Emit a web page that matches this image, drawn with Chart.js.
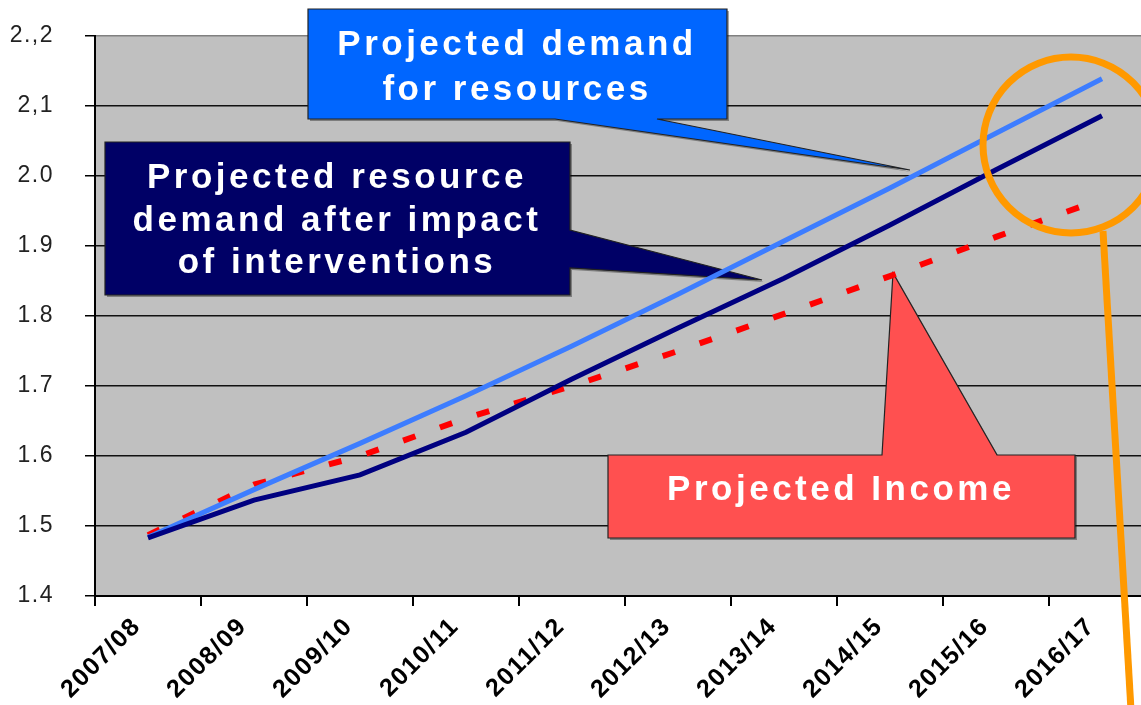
<!DOCTYPE html>
<html>
<head>
<meta charset="utf-8">
<script src="https://cdn.jsdelivr.net/npm/chart.js@4"></script>
<style>
  html, body { margin: 0; padding: 0; background: #fff; overflow: hidden; }
  #wrap { width: 1141px; height: 705px; overflow: hidden; position: relative; }
</style>
</head>
<body>
<div id="wrap"><canvas id="chart" width="1160" height="705"></canvas></div>
<script>
// Data
const years = ["2007/08", "2008/09", "2009/10", "2010/11", "2011/12", "2012/13", "2013/14", "2014/15", "2015/16", "2016/17"];
const demand = [1.484, 1.552, 1.618, 1.686, 1.757, 1.831, 1.907, 1.983, 2.061, 2.139];
const afterInterventions = [1.483, 1.537, 1.573, 1.634, 1.710, 1.783, 1.854, 1.930, 2.009, 2.086];
const income = [1.487, 1.559, 1.600, 1.654, 1.700, 1.750, 1.803, 1.857, 1.913, 1.967];
const yLabels = ["1.4", "1.5", "1.6", "1.7", "1.8", "1.9", "2.0", "2,1", "2.,2"];

const FONT = "'Liberation Sans', Arial, sans-serif";

// Callout boxes drawn over the plot
const callouts = [
    {
        fill: "#0066ff",
        shape: [[308, 9], [727, 9], [727, 119], [657, 119], [910, 170], [555, 119], [308, 119]],
        cx: 517, lines: [["Projected demand", 55], ["for resources", 100]]
    },
    {
        fill: "#000066",
        shape: [[105, 142], [570, 142], [570, 230], [762, 280], [570, 268], [570, 295], [105, 295]],
        cx: 337, lines: [["Projected resource", 188], ["demand after impact", 231], ["of interventions", 273]]
    },
    {
        fill: "#ff5050",
        shape: [[608, 455], [882, 455], [893, 273], [997, 455], [1075, 455], [1075, 538], [608, 538]],
        cx: 841, lines: [["Projected Income", 500]]
    }
];

const decorPlugin = {
    id: "decor",
    beforeDraw(chart) {
        const { ctx, chartArea: a } = chart;
        ctx.save();
        ctx.fillStyle = "#c0c0c0";
        ctx.fillRect(a.left, a.top, a.right - a.left, a.bottom - a.top);
        ctx.restore();
        ctx.letterSpacing = "1.5px";
    },
    beforeDatasetsDraw(chart) {
        const ctx = chart.ctx;
        callouts.forEach((c) => {
            ctx.save();
            ctx.beginPath();
            c.shape.forEach(([x, y], i) => (i ? ctx.lineTo(x, y) : ctx.moveTo(x, y)));
            ctx.closePath();
            ctx.shadowColor = "rgba(0,0,0,0.35)";
            ctx.shadowOffsetX = 2;
            ctx.shadowOffsetY = 2;
            ctx.fillStyle = c.fill;
            ctx.fill();
            ctx.shadowColor = "transparent";
            ctx.strokeStyle = "#222";
            ctx.lineWidth = 1.2;
            ctx.stroke();
            ctx.fillStyle = "#fff";
            ctx.font = "bold 35px " + FONT;
            ctx.letterSpacing = "3.5px";
            ctx.textAlign = "center";
            ctx.textBaseline = "alphabetic";
            c.lines.forEach(([t, y]) => ctx.fillText(t, c.cx, y));
            ctx.restore();
        });
    },
    afterDatasetsDraw(chart) {
        const ctx = chart.ctx;
        ctx.save();
        ctx.strokeStyle = "#ff9900";
        ctx.lineWidth = 7;
        ctx.beginPath();
        ctx.arc(1071, 145, 88, 0, Math.PI * 2);
        ctx.stroke();
        ctx.beginPath();
        ctx.moveTo(1103, 231);
        ctx.lineTo(1131, 710);
        ctx.stroke();
        ctx.restore();
    }
};

new Chart(document.getElementById("chart"), {
    type: "line",
    data: {
        labels: years,
        datasets: [
            {
                label: "Projected resource demand after impact of interventions",
                data: afterInterventions,
                borderColor: "#000080",
                borderWidth: 5,
            },
            {
                label: "Projected demand for resources",
                data: demand,
                borderColor: "#3d7dff",
                borderWidth: 5,
            },
            {
                label: "Projected Income",
                data: income,
                borderColor: "#ff0000",
                borderWidth: 6,
                borderDash: [13, 26],
                borderCapStyle: "butt",
            },
        ],
    },
    options: {
        responsive: false,
        animation: false,
        events: [],
        layout: { padding: { top: 36, right: 5, left: 0, bottom: 0 } },
        elements: { point: { radius: 0 }, line: { tension: 0, fill: false } },
        plugins: { legend: { display: false }, tooltip: { enabled: false } },
        scales: {
            x: {
                offset: true,
                afterFit: (s) => { s.height = 109; },
                grid: {
                    offset: true,
                    drawOnChartArea: false,
                    tickLength: 10,
                    tickColor: "#000",
                    lineWidth: 2,
                },
                border: { color: "#000", width: 2 },
                ticks: {
                    autoSkip: false,
                    maxRotation: 45,
                    minRotation: 45,
                    padding: 6,
                    labelOffset: -11,
                    color: "#000",
                    font: { family: FONT, size: 25, weight: "bold" },
                },
            },
            y: {
                min: 1.4,
                max: 2.2,
                afterFit: (s) => {
                    s.width = 95;
                    s.paddingTop = 0;
                    s.paddingBottom = 0;
                },
                grid: {
                    color: (ctx) => (ctx.tick && ctx.tick.value > 2.19 ? "#808080" : "#111"),
                    tickColor: "#000",
                    tickLength: 10,
                    lineWidth: 1.5,
                },
                border: { color: "#000", width: 2 },
                ticks: {
                    stepSize: 0.1,
                    padding: 31,
                    color: "#222",
                    font: { family: FONT, size: 23 },
                    callback: (v, i) => yLabels[i],
                },
            },
        },
    },
    plugins: [decorPlugin],
});
</script>
</body>
</html>
